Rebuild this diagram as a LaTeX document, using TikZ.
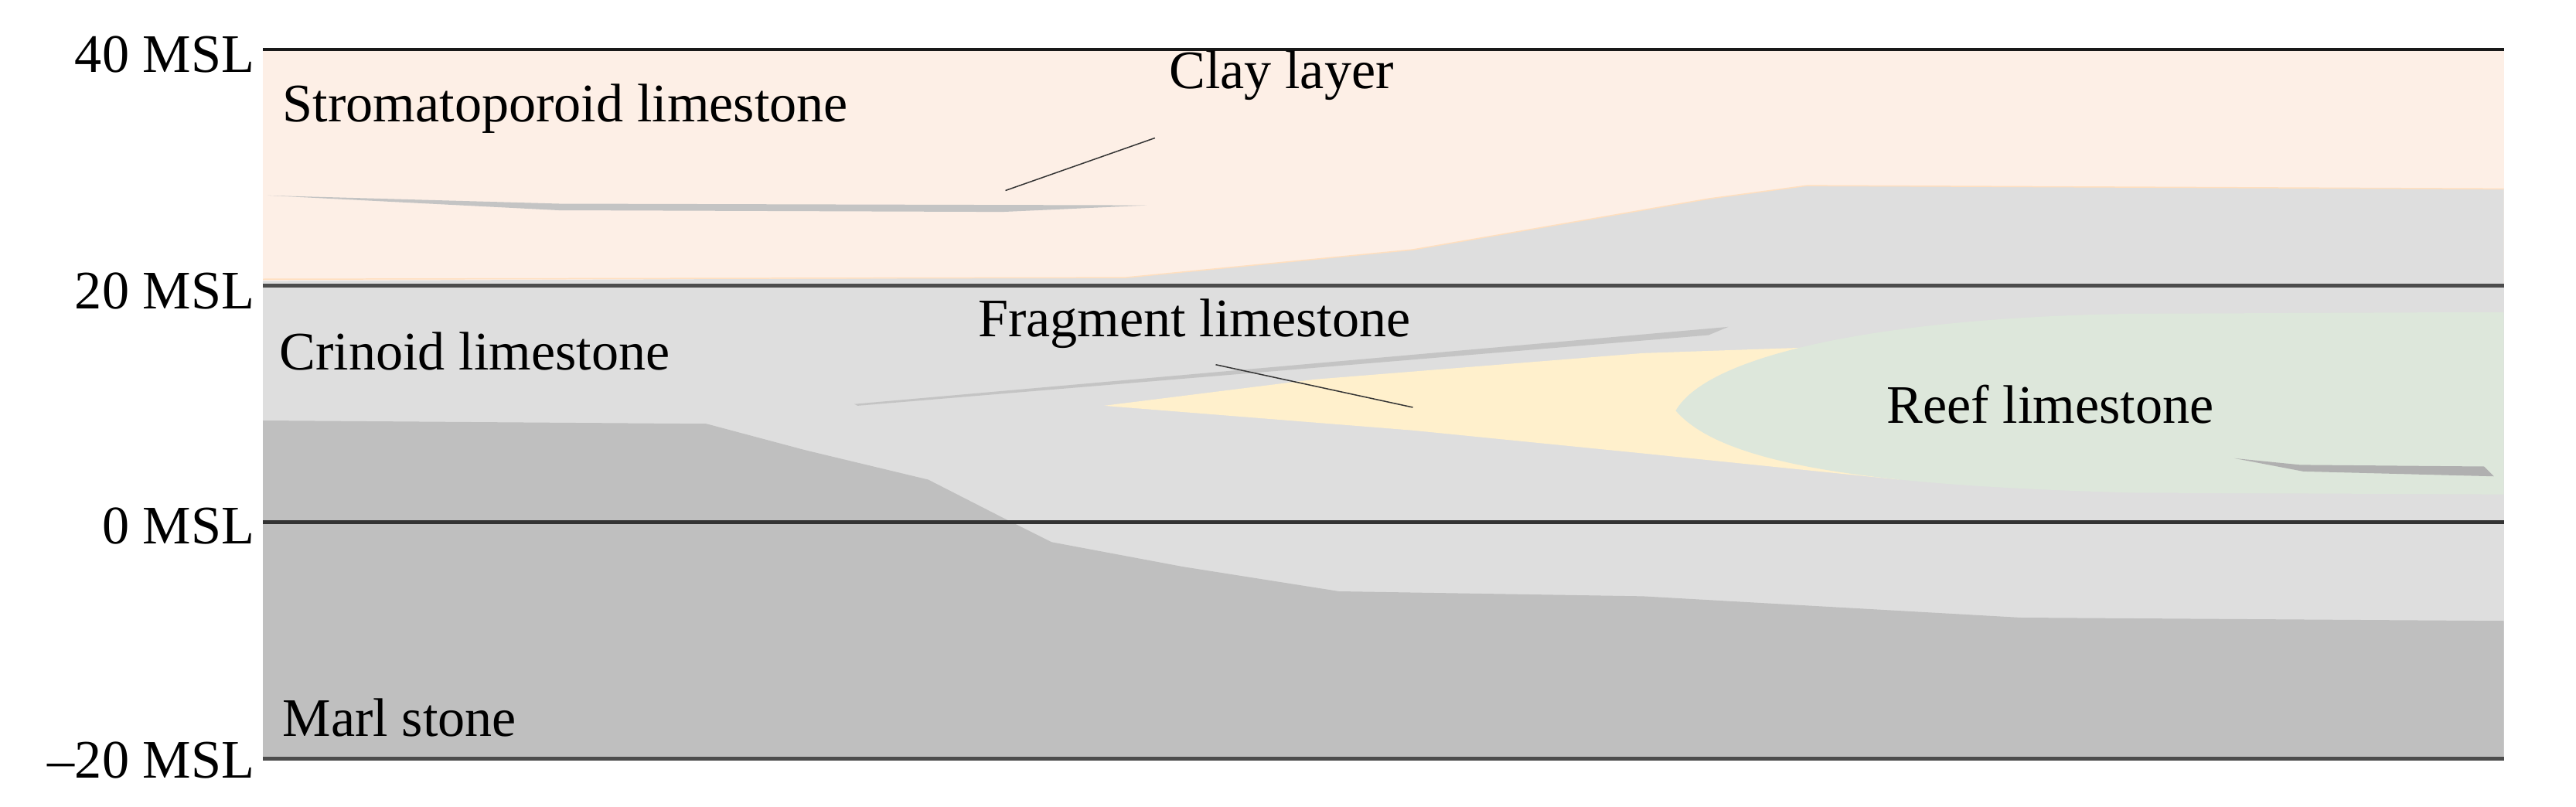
\documentclass[tikz,border=0pt]{standalone}
\usepackage{fontspec}
\setmainfont{Liberation Serif}
\begin{document}
\begin{tikzpicture}[x=0.05cm,y=-0.05cm,
  lbl/.style={font=\fontsize{47}{50}\selectfont,inner sep=0pt},
  axl/.style={lbl,anchor=east},
  grid/.style={line width=3.5,draw=black!70},
  leader/.style={draw=black!80,line width=1}]
\definecolor{peach}{HTML}{FDEFE6}
\definecolor{lgray}{HTML}{DEDEDE}
\definecolor{mgray}{HTML}{BFBFBF}
\definecolor{sgray}{HTML}{C4C4C4}
\definecolor{yel}{HTML}{FFF0CC}
\definecolor{grn}{HTML}{DDE7DB}
\useasboundingbox (0,0) rectangle (1568,491);
% layers
\fill[peach] (160,30) rectangle (1524,174);
\fill[lgray] (685,169) -- (860,152) -- (1040,121) -- (1100,113) -- (1524,115) -- (1524,174) -- (160,174) -- (160,171) -- cycle;
\draw[draw=orange!25,line width=1] (160,170) -- (685,169) -- (860,152) -- (1040,121) -- (1100,113) -- (1524,115);
\fill[lgray] (160,174) rectangle (1524,462);
\fill[mgray] (160,256) -- (430,258) -- (490,274) -- (565,292) -- (612,316) -- (640,330) -- (720,345) -- (815,360) -- (1000,363) -- (1230,376) -- (1524,378) -- (1524,462) -- (160,462) -- cycle;
% clay layer sliver
\fill[sgray] (163,119) -- (340,124) -- (698,125) -- (610,129) -- (340,128) -- cycle;
% sliver in crinoid
\fill[sgray] (520,246) -- (1052,199) -- (1040,204) -- (522,247) -- cycle;
% fragment limestone
\fill[yel] (672,247) -- (800,231) -- (1000,215) -- (1146,210) -- (1080,235) -- (1080,265) -- (1156,292) -- (1000,276) -- (860,262) -- cycle;
% reef
\fill[grn] (1020,250) .. controls (1040,215) and (1150,193) .. (1300,191) -- (1524,190) -- (1524,301) -- (1300,300) .. controls (1150,296) and (1050,285) .. cycle;
\fill[sgray!90!black] (1360,279) -- (1402,287) -- (1518,290) -- (1512,284) -- (1400,283) -- cycle;
% grid lines
\draw[line width=2.5,draw=black!90] (160,30) -- (1524,30);
\draw[grid] (160,174) -- (1524,174);
\draw[grid,draw=black!80] (160,318) -- (1524,318);
\draw[grid] (160,462) -- (1524,462);
% axis labels
\node[axl] (a40) at (155,33) {40 MSL};
\node[axl] (a20) at (155,177) {20 MSL};
\node[axl] (a0) at (155,320) {0 MSL};
\node[axl] (am20) at (155,463) {–20 MSL};
% labels
\node[lbl,anchor=west] (strom) at (172,66) {Stromatoporoid limestone};
\node[lbl] (clay) at (780,46) {Clay layer};
\node[lbl,anchor=west] (crin) at (170,214) {Crinoid limestone};
\node[lbl] (frag) at (727,197) {Fragment limestone};
\node[lbl] (reef) at (1248,246) {Reef limestone};
\node[lbl,anchor=west] (marl) at (172,437) {Marl stone};
\coordinate (c1) at (612,116);
\coordinate (c2) at (703,84);
\coordinate (f1) at (740,222);
\coordinate (f2) at (860,248);
\draw[leader] (c1) -- (c2);
\draw[leader] (f1) -- (f2);
\end{tikzpicture}
\end{document}
